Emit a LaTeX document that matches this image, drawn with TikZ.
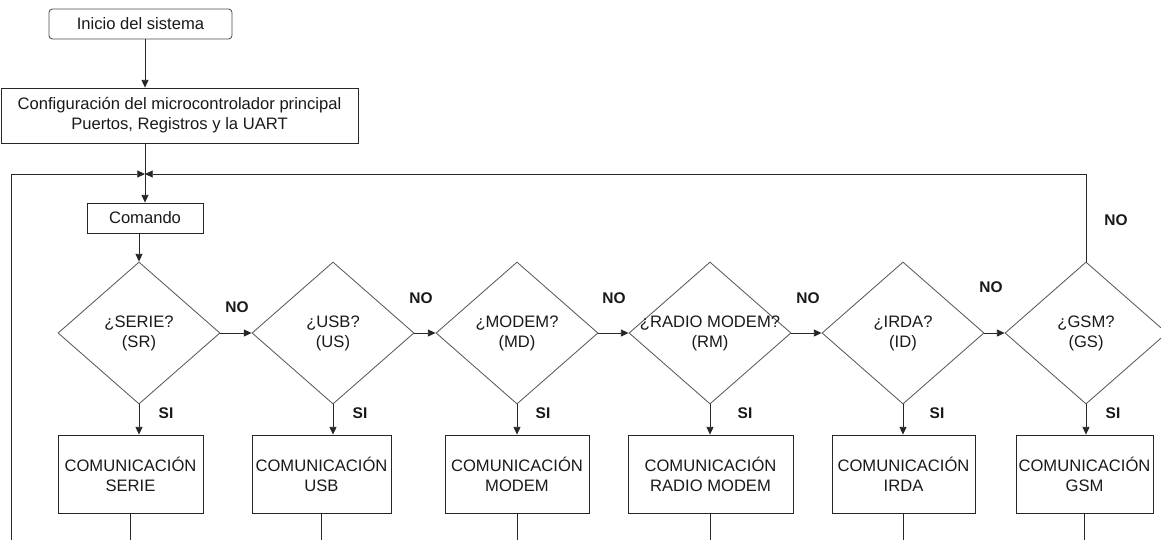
\documentclass[tikz,border=0pt]{standalone}
\usepackage{fontspec}
\setmainfont{Liberation Sans}
\usepackage{tikz}
\usetikzlibrary{arrows.meta,positioning,calc,shapes.geometric}

\begin{document}
\begin{tikzpicture}[x=0.025cm, y=-0.025cm, line width=0.6pt, draw=black!85,
    every node/.style={font=\fontsize{11.8}{14.2}\selectfont, text=black!90},
    startbox/.style={draw=black!70, rounded corners=2.5pt, minimum width=4.575cm, minimum height=0.75cm, inner sep=0pt},
    procbox/.style={draw=black!85, minimum height=1.95cm, inner sep=0pt, align=center},
    decision/.style={diamond, draw=black!65, minimum width=4.05cm, minimum height=3.55cm, inner sep=0pt, align=center},
    tag/.style={font=\fontsize{11}{13}\selectfont\bfseries},
    flow/.style={-{Triangle[length=5.5pt, width=5pt]}}]
    \useasboundingbox (0,0) rectangle (1161,540);

    % Start and set-up
    \node[startbox] (ini) at (140.5,24) {Inicio del sistema};
    \node[procbox, minimum width=8.925cm, minimum height=1.375cm] (cfg) at (179.5,115.5)
        {Configuración del microcontrolador principal\\Puertos, Registros y la UART};
    \coordinate (join) at (145,174);
    \coordinate (lft) at (11,540);
    \coordinate (bottom) at (0,540);
    \node[procbox, minimum width=2.9cm, minimum height=0.75cm] (cmd) at (145,218) {Comando};

    % Questions
    \foreach \i/\x/\q in {1/139/{¿SERIE?\\(SR)}, 2/333/{¿USB?\\(US)}, 3/517/{¿MODEM?\\(MD)},
                          4/710/{\makebox[0pt]{¿RADIO MODEM?}\\(RM)}, 5/903/{¿IRDA?\\(ID)}, 6/1086/{¿GSM?\\(GS)}}
        \node[decision] (d\i) at (\x,333) {\q};

    % Answers
    \foreach \i/\bx/\bw/\t in {1/130.5/3.625cm/SERIE, 2/321.5/3.475cm/USB, 3/517/3.6cm/MODEM,
                               4/710.5/4.125cm/RADIO MODEM, 5/903.5/3.575cm/IRDA, 6/1084.5/3.425cm/GSM}
        \node[procbox, minimum width=\bw] (b\i) at (\bx,474) {COMUNICACIÓN\\\t};

    % Main flow
    \draw[flow] (ini.south -| join) -- (cfg.north -| join);
    \draw (cfg.south -| join) -- (join);
    \draw[flow] (join) -- (cmd.north);
    \draw[flow] (cmd.south -| d1.north) -- (d1.north);
    \draw[flow] (lft) |- (join);
    \draw[flow] (d6.north) |- (join);

    % NO branches
    \foreach \i [count=\j from 2] in {1,...,5}
        \draw[flow] (d\i.east) -- (d\j.west);
    \node[tag] (no1) at (237,307) {NO};
    \node[tag] (no2) at (421,298) {NO};
    \node[tag] (no3) at (614,298) {NO};
    \node[tag] (no4) at (808,298) {NO};
    \node[tag] (no5) at (991,287) {NO};
    \node[tag] (no6) at (1116,220) {NO};

    % SI branches
    \foreach \i/\sx in {1/166, 2/360, 3/543, 4/745, 5/937, 6/1113} {
        \draw[flow] (d\i.south) -- (d\i.south |- b\i.north);
        \draw (b\i.south) -- (b\i.south |- bottom);
        \node[tag] (si\i) at (\sx,413) {SI};
    }
\end{tikzpicture}
\end{document}
